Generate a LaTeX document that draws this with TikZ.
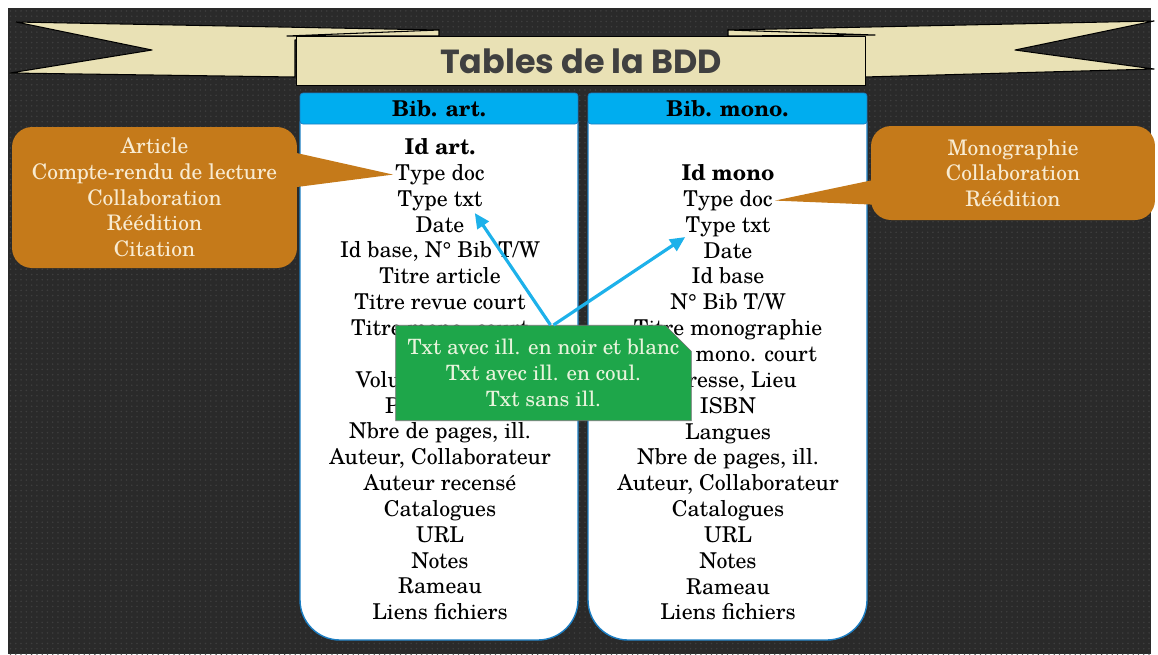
\documentclass[tikz,border=0pt]{standalone}
\usepackage{fontspec}
\newfontfamily\schola{texgyreschola}[Extension=.otf, UprightFont=*-regular, BoldFont=*-bold, ItalicFont=*-italic, BoldItalicFont=*-bolditalic]
\newfontfamily\titlefont{Poppins}
\usepackage{xcolor}
\usetikzlibrary{arrows.meta, positioning, calc, shapes.misc, patterns}

\definecolor{bgdark}{HTML}{2A2A2A}
\definecolor{bgdot}{HTML}{3E3E3E}
\definecolor{ribbonc}{HTML}{E9E1B5}
\definecolor{titlegray}{HTML}{404040}
\definecolor{headblue}{HTML}{00ADEF}
\definecolor{rimblue}{HTML}{1C7EC3}
\definecolor{ochre}{HTML}{C57A1A}
\definecolor{cream}{HTML}{F8EBD1}
\definecolor{notegreen}{HTML}{1EA64A}
\definecolor{notetext}{HTML}{E8F4DC}
\definecolor{arrowblue}{HTML}{1DB1EA}

\begin{document}
\begin{tikzpicture}[x=0.02cm, y=-0.02cm,
    rowtxt/.style={font=\schola\fontsize{12.4}{14.65}\selectfont, inner sep=0pt, anchor=base},
    hdr/.style={fill=headblue, draw=rimblue, rounded corners=0.06cm, minimum width=5.56cm,
                minimum height=0.62cm, font=\schola\bfseries\fontsize{12.4}{14.65}\selectfont},
    colbody/.style={fill=white, draw=rimblue, line width=0.8pt},
    callout/.style={fill=ochre, rounded corners=0.4cm, text=cream, align=center, inner sep=0pt,
                    font=\schola\fontsize{12.2}{14.65}\selectfont},
    note/.style={chamfered rectangle, chamfered rectangle corners=north east,
                 chamfered rectangle xsep=0.24cm, chamfered rectangle ysep=0.28cm,
                 fill=notegreen, draw=black!55, text=notetext, align=center, inner sep=0pt,
                 minimum width=5.86cm, minimum height=1.8cm, font=\schola\fontsize{12}{14.65}\selectfont},
    arr/.style={-{Triangle[length=3mm, width=2.7mm]}, line width=1.8pt, draw=arrowblue},
    ribbon/.style={fill=ribbonc, draw=black, line width=0.6pt, line join=round}
]
\useasboundingbox (0,0) rectangle (1158,654);
\fill[white] (0,0) rectangle (1158,654);
\fill[bgdark] (8,8) rectangle (1151,654);
\fill[pattern=dots, pattern color=bgdot] (8,8) rectangle (1151,654);

\draw[ribbon] (16,22) -- (439,30) -- (439,36) -- (295,40) -- (295,77) -- (10,73) -- (152,50) -- cycle;
\draw[ribbon] (287,36) -- (439,30) -- (439,36) -- cycle;
\draw[ribbon] (728,30) -- (1154,21) -- (1015,50) -- (1154,69) -- (864,77) -- (864,40) -- cycle;
\draw[ribbon] (728,30) -- (875,35) -- (728,36) -- cycle;
\node[ribbon, minimum width=11.38cm, minimum height=0.98cm, text=titlegray,
      font=\titlefont\bfseries\fontsize{19}{22}\selectfont] (banner) at (581,61) {Tables de la BDD};

\draw[colbody] (300,122) -- (578,122) -- (578,600) arc[start angle=0, end angle=-90, radius=0.8cm]
    -- (340,640) arc[start angle=270, end angle=180, radius=0.8cm] -- cycle;
\draw[colbody] (588,122) -- (867,122) -- (867,600) arc[start angle=0, end angle=-90, radius=0.8cm]
    -- (628,640) arc[start angle=270, end angle=180, radius=0.8cm] -- cycle;
\node[hdr] (hdrart) at (439,108.5) {Bib. art.};
\node[hdr, minimum width=5.58cm] (hdrmono) at (727.5,108.5) {Bib. mono.};

\foreach \txt [count=\i from 0] in {\textbf{Id art.}, Type doc, Type txt, Date, {Id base, N° Bib T/W},
    Titre article, Titre revue court, Titre mono. court, {}, {Volume, Numéro}, Pagination,
    {Nbre de pages, ill.}, {Auteur, Collaborateur}, Auteur recensé, Catalogues, URL, Notes, Rameau,
    Liens fichiers}
  \node[rowtxt] (art-\i) at (440,154.5+25.85*\i) {\txt};
\foreach \txt [count=\i from 0] in {\textbf{Id mono}, Type doc, Type txt, Date, Id base, N° Bib T/W,
    Titre monographie, Titre mono. court, {Adresse, Lieu}, ISBN, Langues, {Nbre de pages, ill.},
    {Auteur, Collaborateur}, Catalogues, URL, Notes, Rameau, Liens fichiers}
  \node[rowtxt] (mono-\i) at (728,180.5+25.85*\i) {\txt};

\node[callout, minimum width=5.7cm, minimum height=2.82cm] (artcall) at (154.5,197.5)
    {Article\\Compte-rendu de lecture\\Collaboration\\Réédition\\Citation};
\fill[ochre] ($(artcall.east)+(-12,-47)$) -- ([xshift=-0.04cm]art-1.west) -- ($(artcall.east)+(-12,-9)$) -- cycle;
\node[callout, minimum width=5.68cm, minimum height=1.88cm] (monocall) at (1013,173)
    {Monographie\\Collaboration\\Réédition};
\fill[ochre] ($(monocall.west)+(12,5)$) -- ([xshift=0.04cm]mono-1.east) -- ($(monocall.west)+(12,32)$) -- cycle;

\node[note] (txtnote) at (543.5,373) {Txt avec ill. en noir et blanc\\Txt avec ill. en coul.\\Txt sans ill.};
\draw[arr] ([xshift=0.14cm]txtnote.north) -- ([xshift=-0.16cm, yshift=-0.04cm]art-2.south east);
\draw[arr] ([xshift=0.2cm]txtnote.north) -- (mono-2.south west);
\end{tikzpicture}
\end{document}
